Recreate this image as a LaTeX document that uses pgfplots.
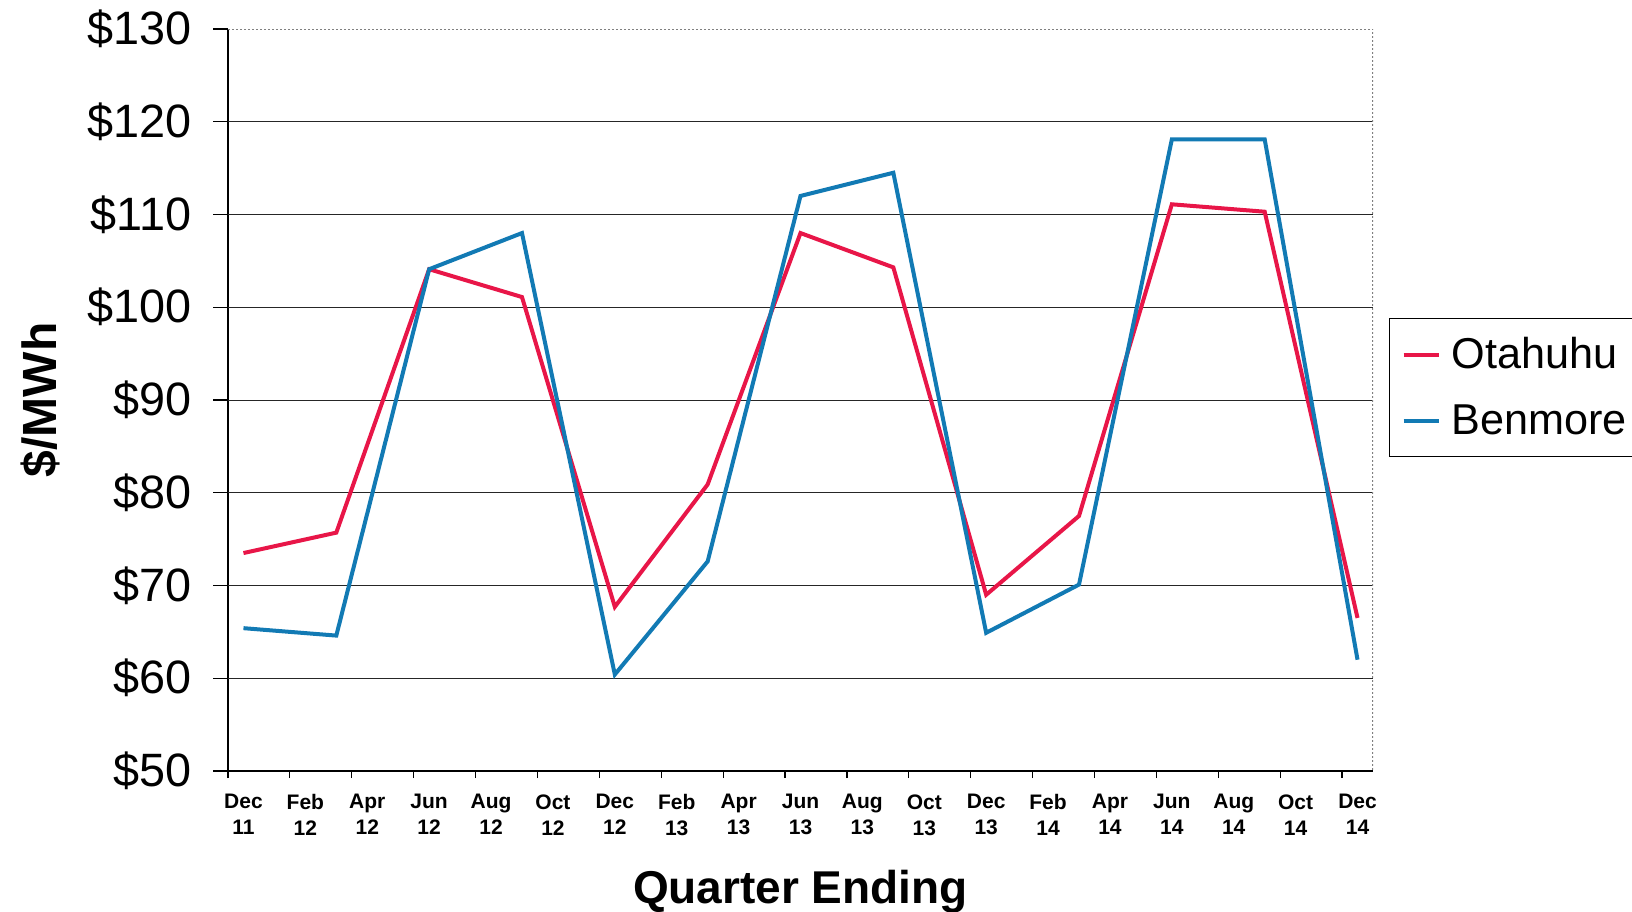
\documentclass[border=0pt]{standalone}
\usepackage{fontspec}
\setmainfont{Liberation Sans}
\usepackage{pgfplots}
\pgfplotsset{compat=1.18}
\definecolor{otared}{RGB}{232,22,72}
\definecolor{benblue}{RGB}{18,122,180}

\begin{document}
\begin{tikzpicture}
\begin{axis}[
  at={(114pt,70pt)}, anchor=south west,
  scale only axis, width=572.5pt, height=371pt,
  xmin=-0.5, xmax=36.5, ymin=50, ymax=130,
  axis x line*=bottom, axis y line*=left,
  axis line style={-, black, line width=0.6pt},
  tick align=outside,
  major tick length=7.5pt, minor tick length=3.5pt,
  tick style={black, line width=0.6pt},
  xtick={0,2,...,36},
  xticklabels={{Dec\\11},{Feb\\12},{Apr\\12},{Jun\\12},{Aug\\12},{Oct\\12},
    {Dec\\12},{Feb\\13},{Apr\\13},{Jun\\13},{Aug\\13},{Oct\\13},
    {Dec\\13},{Feb\\14},{Apr\\14},{Jun\\14},{Aug\\14},{Oct\\14},{Dec\\14}},
  major x tick style={draw=none},
  minor xtick={-0.5,1.5,...,35.5},
  xticklabel style={font=\bfseries\fontsize{10.5}{13}\selectfont, align=center, inner sep=0pt, anchor=north, yshift=-4pt},
  ytick={50,60,...,130},
  yticklabels={\$50,\$60,\$70,\$80,\$90,\$100,\$110,\$120,\$130},
  yticklabel style={font=\fontsize{23.4}{27}\selectfont, inner sep=0pt, anchor=east, xshift=-10.5pt},
  extra y ticks={60,70,...,120},
  extra y tick labels={},
  extra y tick style={grid=major},
  major grid style={black!85, line width=0.5pt},
  xlabel={Quarter Ending},
  xlabel style={font=\bfseries\fontsize{23}{26}\selectfont, at={(rel axis cs:0.5,0)}, anchor=base, yshift=-66pt},
  ylabel={\$/MWh},
  ylabel style={font=\bfseries\fontsize{24}{28}\selectfont, at={(rel axis cs:0,0.5)}, anchor=center, yshift=94pt},
  legend style={at={(1.014,0.6105)}, anchor=north west, draw=black, line width=0.6pt,
    font=\fontsize{21.6}{26}\selectfont, inner xsep=6pt, inner ysep=7.5pt,
    row sep=12.5pt, /tikz/every odd column/.style={column sep=3.5pt}},
  legend cell align=left,
  legend image code/.code={\draw[#1, line width=2pt] (0pt,0pt) -- (17.5pt,0pt);},
]
\draw[gray, line width=0.6pt, dash pattern=on 1pt off 1pt] (rel axis cs:0,1) -- (rel axis cs:1,1) -- (rel axis cs:1,0);
\addplot[otared, line width=2pt] coordinates {
  (0,73.5) (3,75.7) (6,104.1) (9,101.1) (12,67.7) (15,80.9) (18,108.0)
  (21,104.3) (24,69.0) (27,77.5) (30,111.1) (33,110.3) (36,66.5)};
\addplot[benblue, line width=2pt] coordinates {
  (0,65.4) (3,64.6) (6,104.1) (9,108.0) (12,60.4) (15,72.6) (18,112.0)
  (21,114.5) (24,64.9) (27,70.1) (30,118.1) (33,118.1) (36,62.0)};
\legend{Otahuhu, Benmore}
\end{axis}
\pgfresetboundingbox
\path (0,0) rectangle (816pt,455.5pt);
\end{tikzpicture}
\end{document}
